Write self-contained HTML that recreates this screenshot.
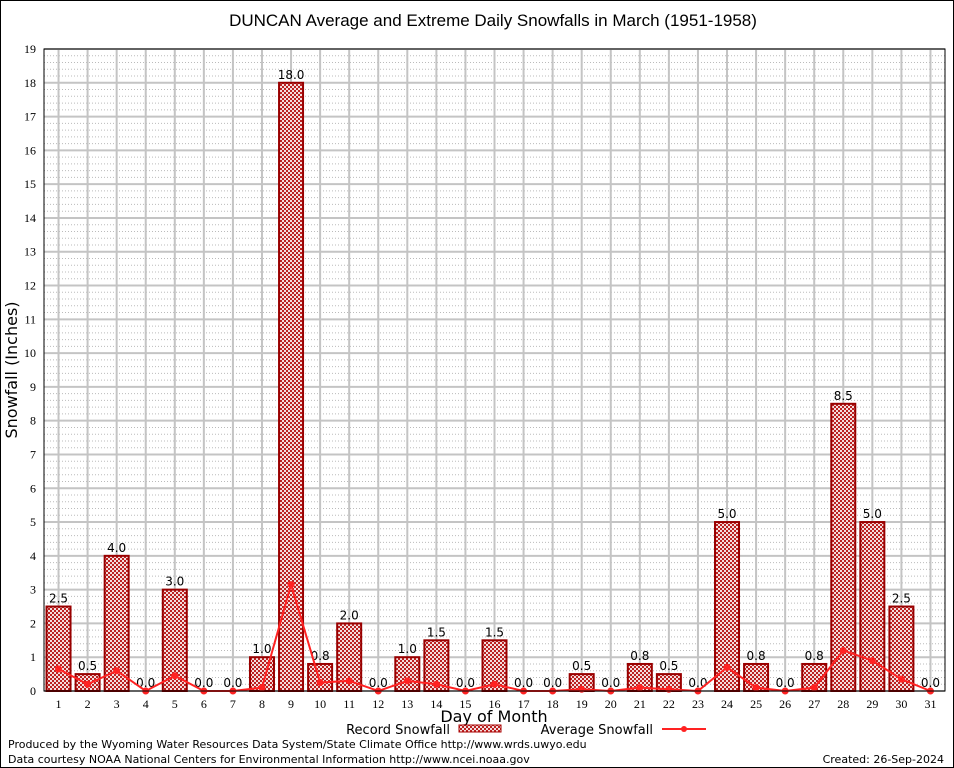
<!DOCTYPE html>
<html><head><meta charset="utf-8"><style>
body{margin:0;background:#fff}
svg{display:block;font-family:"DejaVu Sans","Liberation Sans",sans-serif}
</style></head><body>
<svg id="chart" width="954" height="768" viewBox="0 0 954 768" xmlns="http://www.w3.org/2000/svg">
<defs>
<pattern id="chk" width="4" height="4" patternUnits="userSpaceOnUse">
<rect width="4" height="4" fill="#f4dede"/><rect width="2" height="2" fill="#b22"/><rect x="2" y="2" width="2" height="2" fill="#b22"/>
</pattern>
</defs>
<rect x="0.5" y="0.5" width="953" height="767" fill="#fff" stroke="#000"/>
<text x="493" y="26" text-anchor="middle" font-size="17" font-family="Liberation Sans, sans-serif">DUNCAN Average and Extreme Daily Snowfalls in March (1951-1958)</text>
<g id="grid"></g>
<g id="bars"></g>
<g id="line"></g>
<g id="axes"></g>
<text transform="translate(17,370) rotate(-90)" text-anchor="middle" font-size="16">Snowfall (Inches)</text>
<text x="494" y="722" text-anchor="middle" font-size="16">Day of Month</text>
<g>
<text x="450" y="734" text-anchor="end" font-size="13">Record Snowfall</text>
<rect x="459" y="725" width="42" height="7" fill="url(#chk)" stroke="#a00"/>
<text x="653" y="734" text-anchor="end" font-size="13">Average Snowfall</text>
<line x1="662" y1="729" x2="706" y2="729" stroke="#f22" stroke-width="2"/>
<circle cx="684" cy="729" r="3" fill="#f22"/>
</g>
<text x="8" y="748" font-size="11">Produced by the Wyoming Water Resources Data System/State Climate Office http://www.wrds.uwyo.edu</text>
<text x="8" y="763" font-size="11">Data courtesy NOAA National Centers for Environmental Information http://www.ncei.noaa.gov</text>
<text x="944" y="763" text-anchor="end" font-size="11">Created:  26-Sep-2024</text>
</svg>
<script>
const days=[1,2,3,4,5,6,7,8,9,10,11,12,13,14,15,16,17,18,19,20,21,22,23,24,25,26,27,28,29,30,31];
const recordSnow=[2.5,0.5,4.0,0.0,3.0,0.0,0.0,1.0,18.0,0.8,2.0,0.0,1.0,1.5,0.0,1.5,0.0,0.0,0.5,0.0,0.8,0.5,0.0,5.0,0.8,0.0,0.8,8.5,5.0,2.5,0.0];
const avgSnow=[0.65,0.2,0.6,0,0.45,0,0,0.1,3.15,0.25,0.3,0,0.3,0.2,0,0.2,0,0,0.05,0,0.1,0.05,0,0.7,0.1,0,0.1,1.2,0.9,0.35,0];
const yTicks=[0,1,2,3,4,5,6,7,8,9,10,11,12,13,14,15,16,17,18,19];
const NS="http://www.w3.org/2000/svg";
const L=44,R=945,T=49,B=691,YMAX=19;
const slot=(R-L)/days.length;
const x=d=>L+(d-0.5)*slot;
const y=v=>B-(v/YMAX)*(B-T);
function mk(tag,attrs,parent){const e=document.createElementNS(NS,tag);for(const k in attrs)e.setAttribute(k,attrs[k]);parent.appendChild(e);return e;}
const grid=document.getElementById('grid'),bars=document.getElementById('bars'),line=document.getElementById('line'),axes=document.getElementById('axes');
for(let v=0;v<YMAX;v+=0.2){const yy=y(v);const g=mk('line',{x1:L,x2:R,y1:yy,y2:yy,stroke:'#bbb','stroke-dasharray':'1,2','stroke-width':1},grid);

}
yTicks.forEach(v=>{const g=mk('line',{x1:L,x2:R,y1:y(v),y2:y(v),stroke:'#c4c4c4','stroke-width':2},grid);


const t=mk('text',{x:L-8,y:y(v)+4,'text-anchor':'end','font-size':12,'font-family':'Liberation Serif, serif'},axes);t.textContent=v;

});
days.forEach(d=>{const g=mk('line',{x1:x(d),x2:x(d),y1:T,y2:B,stroke:'#c4c4c4','stroke-width':2},grid);


const t=mk('text',{x:x(d),y:B+17,'text-anchor':'middle','font-size':12,'font-family':'Liberation Serif, serif'},axes);t.textContent=d;

});
const frame=mk('rect',{x:L,y:T,width:R-L,height:B-T,fill:'none',stroke:'#000'},axes);


const bw=24;
days.forEach((d,i)=>{const v=recordSnow[i];
if(v>0){const b=mk('rect',{x:x(d)-bw/2,y:y(v),width:bw,height:B-y(v),fill:'url(#chk)',stroke:'#900','stroke-width':2},bars);

}
const t=mk('text',{x:x(d),y:y(v)-4,'text-anchor':'middle','font-size':12},bars);t.textContent=v.toFixed(1);

});
const pts=days.map((d,i)=>x(d)+','+y(avgSnow[i])).join(' ');
const pl=mk('polyline',{points:pts,fill:'none',stroke:'#f22','stroke-width':2},line);


days.forEach((d,i)=>{const c=mk('circle',{cx:x(d),cy:y(avgSnow[i]),r:3.5,fill:'#f22'},line);

});
</script>
</body></html>
